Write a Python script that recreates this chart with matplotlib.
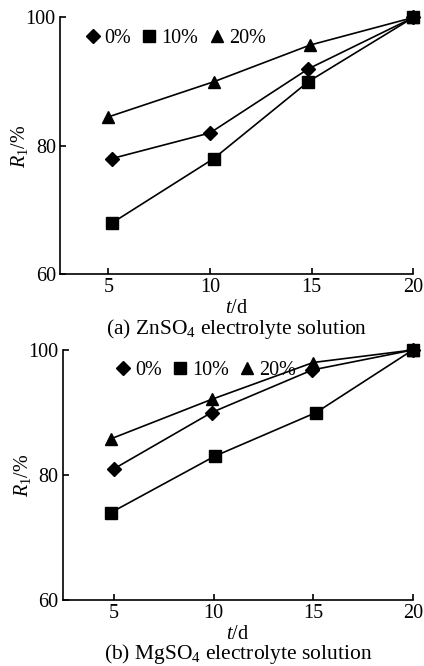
import matplotlib
matplotlib.use("Agg")
import matplotlib.pyplot as plt
from matplotlib.lines import Line2D

plt.rcParams['font.family'] = ['Liberation Serif', 'DejaVu Serif']
plt.rcParams['mathtext.fontset'] = 'custom'
plt.rcParams['mathtext.rm'] = 'Liberation Serif'
plt.rcParams['mathtext.it'] = 'Liberation Serif:italic'

series_labels = ['0%', '10%', '20%']
markers = ['D', 's', '^']
msizes = [7, 8, 9]

# (a) ZnSO4
a_t = {
    '0%': [5.17, 10.0, 14.84, 20],
    '10%': [5.2, 10.18, 14.84, 20],
    '20%': [5.0, 10.2, 14.92, 20],
}
a_R = {
    '0%': [78, 82, 92, 100],
    '10%': [68, 78, 90, 100],
    '20%': [84.5, 90, 95.7, 100],
}
# (b) MgSO4
b_t = {
    '0%': [5.0, 9.9, 14.95, 20],
    '10%': [4.85, 10.05, 15.15, 20],
    '20%': [4.85, 9.9, 15.0, 20],
}
b_R = {
    '0%': [81, 90, 96.8, 100],
    '10%': [74, 83, 90, 100],
    '20%': [85.8, 92.1, 98, 100],
}
xticks = [5, 10, 15, 20]
yticks = [60, 80, 100]
captions = ['(a) ZnSO$_4$ electrolyte solution', '(b) MgSO$_4$ electrolyte solution']

FS = 14.5
W, H = 424, 666
fig = plt.figure(figsize=(W / 100, H / 100), dpi=100)

def px_axes(left, top, right, bottom):
    return fig.add_axes([left / W, 1 - bottom / H, (right - left) / W, (bottom - top) / H])

panels = [
    (px_axes(60, 17.5, 413.3, 274), a_t, a_R, 2.62, captions[0], (0.075, 0.955)),
    (px_axes(62.7, 350, 412.7, 600), b_t, b_R, 2.42, captions[1], (0.155, 0.955)),
]

for ax, tt, RR, xl, cap, legpos in panels:
    for lab, m, ms in zip(series_labels, markers, msizes):
        ax.plot(tt[lab], RR[lab], color='black', lw=1.2, marker=m, ms=ms,
                clip_on=False, zorder=3)
    ax.set_xlim(xl, 20)
    ax.set_ylim(60, 100)
    ax.set_xticks(xticks)
    ax.set_yticks(yticks)
    for s in ['top', 'right']:
        ax.spines[s].set_visible(False)
    for s in ['left', 'bottom']:
        ax.spines[s].set_linewidth(1.2)
    ax.tick_params(direction='in', length=4.5, width=1.2, labelsize=FS, pad=3)
    ax.set_ylabel(r'$R_1$/%', fontsize=FS)
    ax.yaxis.set_label_coords(-0.085, 0.5)
    ax.set_xlabel(r'$t$/d', fontsize=FS, labelpad=1)
    ax.text(0.5, -0.215, cap, transform=ax.transAxes, ha='center', va='center',
            fontsize=15.5)
    handles = [Line2D([], [], ls='none', marker=m, ms=ms, color='black')
               for m, ms in zip(markers, msizes)]
    ax.legend(handles, series_labels, ncol=3, frameon=False, loc='upper left',
              bbox_to_anchor=legpos, fontsize=FS, handlelength=0.6,
              handletextpad=0.3, columnspacing=0.6, borderpad=0, borderaxespad=0)

fig.savefig('out.png', dpi=100)
